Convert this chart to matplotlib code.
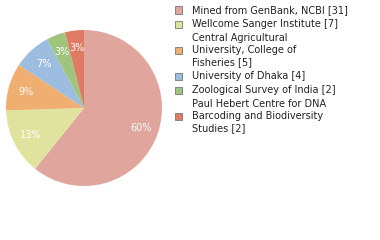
import matplotlib.pyplot as plt
from matplotlib.patches import Rectangle

labels = [
    "Mined from GenBank, NCBI [31]",
    "Wellcome Sanger Institute [7]",
    "Central Agricultural\nUniversity, College of\nFisheries [5]",
    "University of Dhaka [4]",
    "Zoological Survey of India [2]",
    "Paul Hebert Centre for DNA\nBarcoding and Biodiversity\nStudies [2]",
]
counts = [31, 7, 5, 4, 2, 2]
colors = ["#e0a69d", "#dfe39d", "#f0ae70", "#9dbde0", "#9ec57b", "#e07b63"]

fig = plt.figure(figsize=(3.8, 2.4), dpi=100)
W, H = 380, 240

# pie, centre (84,108) radius 78 in pixels
ax = fig.add_axes([(84 - 78) / W, (H - 108 - 78) / H, 156 / W, 156 / H])
wedges, texts, autotexts = ax.pie(
    counts, colors=colors, startangle=90, counterclock=False,
    autopct=lambda p: "%d%%" % int(p),
    pctdistance=0.77, wedgeprops=dict(linewidth=0),
    textprops=dict(color="white", fontsize=7, family="DejaVu Sans"))
ax.set_xlim(-1, 1)
ax.set_ylim(-1, 1)
ax.set_aspect("auto")
ax.axis("off")

# legend drawn by hand
y = 10
line_h = 12
for lab, col in zip(labels, colors):
    n = lab.count("\n") + 1
    cy = y + (n - 1) * line_h / 2
    fig.patches.append(Rectangle((175 / W, 1 - (cy + 3.5) / H), 7 / W, 7 / H,
                                 transform=fig.transFigure, facecolor=col,
                                 edgecolor="#777777", linewidth=0.6))
    fig.text(192 / W, 1 - cy / H, lab, ha="left", va="center",
             fontsize=7, color="#222222", linespacing=1.2)
    y += n * line_h + 2

fig.savefig("out.png", dpi=100)
